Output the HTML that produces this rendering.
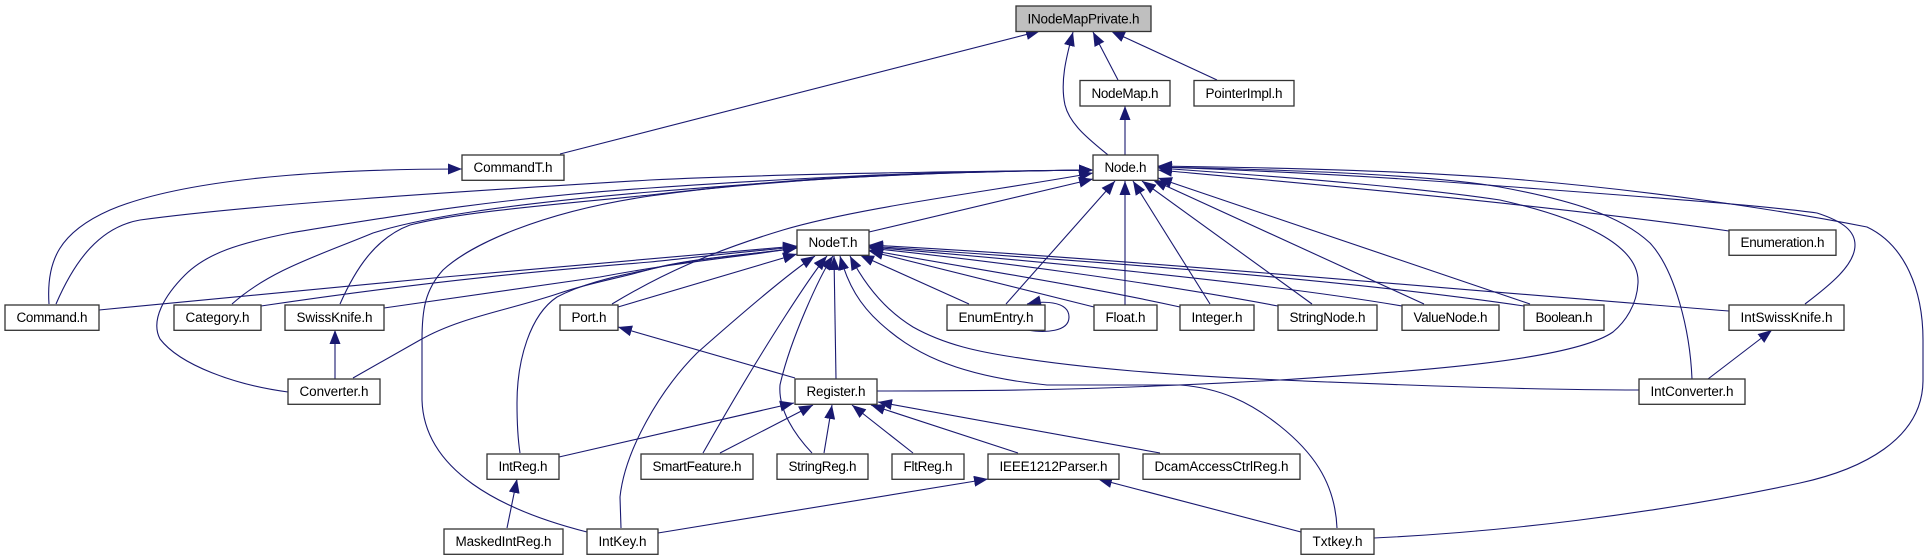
<!DOCTYPE html>
<html>
<head>
<meta charset="utf-8">
<style>
html,body{margin:0;padding:0;background:#fff;width:1929px;height:560px;overflow:hidden}
svg{display:block}
.e{fill:none;stroke:#191970;stroke-width:1.1;marker-start:url(#a)}
.n{fill:none;stroke:#191970;stroke-width:1.1}
rect{fill:#fff;stroke:#333;stroke-width:1.3}
text{font-family:"Liberation Sans",sans-serif;font-size:13.5px;fill:#000;text-anchor:middle}
</style>
</head>
<body>
<svg width="1929" height="560" viewBox="0 0 1929 560" xmlns="http://www.w3.org/2000/svg">
<defs>
<marker id="a" viewBox="0 0 14 11" refX="14" refY="5.5" markerWidth="14" markerHeight="11" markerUnits="userSpaceOnUse" orient="auto-start-reverse"><path d="M0,0L14,5.5L0,11z" fill="#191970"/></marker>
</defs>

<!-- edges to INodeMapPrivate -->
<path class="e" d="M1040,31 L560,154"/>
<path class="e" d="M1073,32 C1066,58 1060,82 1065,105 C1070,125 1090,140 1108,155"/>
<path class="e" d="M1093,32 L1118,80"/>
<path class="e" d="M1111,31 L1217,80"/>
<path class="e" d="M1125,106 L1125,155"/>
<path class="e" d="M462,169 C380,169 200,172 110,210 C60,232 46,260 49,304"/>

<!-- edges to Node left -->
<path class="e" d="M1093,170 C900,172 750,175 650,180 C450,192 250,205 140,220 C100,227 75,260 56,304"/>
<path class="e" d="M1093,170 C900,172 800,178 650,188 C500,198 400,215 290,233 C240,243 207,253 185,275 C165,295 150,320 160,339 C180,365 235,385 288,392"/>
<path class="e" d="M1093,170 C900,172 800,180 650,192 C500,205 420,218 373,233 C320,255 270,270 232,304"/>
<path class="e" d="M1093,170 C900,172 780,180 650,195 C550,205 460,212 410,225 C375,238 355,270 340,304"/>
<path class="e" d="M1093,170 C900,172 780,178 650,196 C540,212 470,245 443,270 C425,290 422,310 422,340 L422,400 C424,470 500,510 587,532"/>
<path class="e" d="M1093,173 C1000,190 860,207 783,230 C710,252 660,275 612,304"/>
<path class="e" d="M1093,179 L869,232"/>

<!-- edges to Node bottom -->
<path class="e" d="M1115,181 L1006,304"/>
<path class="e" d="M1125,181 L1125,305"/>
<path class="e" d="M1133,181 L1210,304"/>
<path class="e" d="M1142,181 L1312,304"/>
<path class="e" d="M1153,180 L1424,304"/>
<path class="e" d="M1158,178 L1530,304"/>

<!-- edges to Node right -->
<path class="e" d="M1158,170 C1300,183 1550,205 1729,231"/>
<path class="e" d="M1158,168 C1300,178 1420,188 1500,200 C1580,218 1640,245 1638,283 C1637,305 1625,322 1613,332 C1570,362 1400,372 1280,380 C1100,390 1000,391 877,391"/>
<path class="e" d="M1158,167 C1300,170 1430,175 1500,187 C1570,200 1620,215 1650,243 C1675,270 1690,330 1692,379"/>
<path class="e" d="M1158,167 C1300,172 1400,178 1500,186 C1620,195 1760,205 1817,213 C1845,222 1855,232 1855,245 C1855,265 1830,285 1805,304"/>
<path class="e" d="M1158,166 C1300,168 1420,172 1500,178 C1650,190 1780,210 1867,227 C1905,245 1923,290 1923,340 L1923,380 C1923,440 1860,470 1800,483 C1650,515 1500,532 1374,538"/>

<!-- edges to NodeT left -->
<path class="e" d="M797,246 C600,262 300,290 99,310"/>
<path class="e" d="M797,247 C720,254 690,258 650,262 C580,268 456,277 261,306"/>
<path class="e" d="M797,248 C730,258 680,262 600,277 L384,308"/>
<path class="e" d="M797,248 C740,256 690,258 640,272 C610,280 590,283 560,293 C510,310 460,317 420,340 L353,378"/>
<path class="e" d="M797,248 C740,256 690,258 647,270 C610,277 580,285 557,297 C530,315 517,360 517,403 C517,425 518,440 520,453"/>
<path class="e" d="M797,254 L618,307"/>

<!-- edges to NodeT bottom -->
<path class="e" d="M815,256 C790,272 740,315 697,353 C660,390 625,450 620,497 L621,528"/>
<path class="e" d="M827,256 C815,270 770,335 703,453"/>
<path class="e" d="M833,256 C820,275 790,340 780,385 C778,410 795,435 812,453"/>
<path class="e" d="M834,256 L836,379"/>
<path class="e" d="M840,256 C848,285 860,305 880,323 C910,350 950,375 1047,385 L1180,385 C1220,388 1250,402 1280,426 C1310,450 1335,480 1337,528"/>
<path class="e" d="M850,256 C865,285 885,310 913,327 C945,345 980,352 1013,357 C1080,368 1180,376 1280,380 C1400,385 1530,390 1639,390"/>
<path class="e" d="M860,255 L969,304"/>

<!-- edges to NodeT right -->
<path class="e" d="M869,251 L1094,307"/>
<path class="e" d="M869,250 C980,270 1080,285 1180,307"/>
<path class="e" d="M869,248 C1000,262 1150,282 1278,306"/>
<path class="e" d="M869,247 C1000,258 1250,280 1402,306"/>
<path class="e" d="M869,246 C1000,256 1300,273 1524,306"/>
<path class="e" d="M869,245 C1100,257 1400,285 1729,311"/>

<!-- Enum self loop -->
<path class="e" d="M1027,304 C1040,301 1069,300 1069,317 C1069,332 1045,333 1027,330"/>

<!-- Register edges -->
<path class="e" d="M618,327 L795,378"/>
<path class="e" d="M794,403 L559,457"/>
<path class="e" d="M813,405 L720,453"/>
<path class="e" d="M832,405 L824,453"/>
<path class="e" d="M852,405 L913,453"/>
<path class="e" d="M871,405 L1018,453"/>
<path class="e" d="M878,402 L1160,453"/>
<path class="e" d="M517,479 L507,528"/>
<path class="e" d="M335,330 L335,379"/>
<path class="e" d="M1772,330 L1708,379"/>
<path class="e" d="M988,479 L658,533"/>
<path class="e" d="M1098,479 L1301,532"/>

<!-- nodes -->
<rect x="1016" y="6" width="135" height="25.5" style="fill:#bfbfbf"/><text x="1083.5" y="23.5" textLength="112">INodeMapPrivate.h</text>
<rect x="1080" y="80.5" width="90" height="25.5"/><text x="1125" y="98" textLength="67">NodeMap.h</text>
<rect x="1194" y="80.5" width="100" height="25.5"/><text x="1244" y="98" textLength="77">PointerImpl.h</text>
<rect x="462" y="155" width="102" height="25.3"/><text x="513" y="172" textLength="79">CommandT.h</text>
<rect x="1093" y="155" width="65" height="25.3"/><text x="1125.5" y="172" textLength="42">Node.h</text>
<rect x="797" y="230" width="72" height="25.3"/><text x="833" y="247" textLength="49">NodeT.h</text>
<rect x="1729" y="230" width="107" height="25.3"/><text x="1782.5" y="247" textLength="84">Enumeration.h</text>

<rect x="5" y="305" width="94" height="25.3"/><text x="52" y="322" textLength="71">Command.h</text>
<rect x="174" y="305" width="87" height="25.3"/><text x="217.5" y="322" textLength="64">Category.h</text>
<rect x="285" y="305" width="99" height="25.3"/><text x="334.5" y="322" textLength="76">SwissKnife.h</text>
<rect x="560" y="305" width="58" height="25.3"/><text x="589" y="322" textLength="35">Port.h</text>
<rect x="947" y="305" width="98" height="25.3"/><text x="996" y="322" textLength="75">EnumEntry.h</text>
<rect x="1094" y="305" width="63" height="25.3"/><text x="1125.5" y="322" textLength="40">Float.h</text>
<rect x="1180" y="305" width="74" height="25.3"/><text x="1217" y="322" textLength="51">Integer.h</text>
<rect x="1278" y="305" width="99" height="25.3"/><text x="1327.5" y="322" textLength="76">StringNode.h</text>
<rect x="1402" y="305" width="97" height="25.3"/><text x="1450.5" y="322" textLength="74">ValueNode.h</text>
<rect x="1524" y="305" width="80" height="25.3"/><text x="1564" y="322" textLength="57">Boolean.h</text>
<rect x="1729" y="305" width="115" height="25.3"/><text x="1786.5" y="322" textLength="92">IntSwissKnife.h</text>

<rect x="288" y="379" width="92" height="25.3"/><text x="334" y="396" textLength="69">Converter.h</text>
<rect x="795" y="379" width="82" height="25.3"/><text x="836" y="396" textLength="59">Register.h</text>
<rect x="1639" y="379" width="106" height="25.3"/><text x="1692" y="396" textLength="83">IntConverter.h</text>

<rect x="487" y="454" width="72" height="25.3"/><text x="523" y="471" textLength="49">IntReg.h</text>
<rect x="641" y="454" width="112" height="25.3"/><text x="697" y="471" textLength="89">SmartFeature.h</text>
<rect x="777" y="454" width="91" height="25.3"/><text x="822.5" y="471" textLength="68">StringReg.h</text>
<rect x="892" y="454" width="72" height="25.3"/><text x="928" y="471" textLength="49">FltReg.h</text>
<rect x="988" y="454" width="131" height="25.3"/><text x="1053.5" y="471" textLength="108">IEEE1212Parser.h</text>
<rect x="1143" y="454" width="157" height="25.3"/><text x="1221.5" y="471" textLength="134">DcamAccessCtrlReg.h</text>

<rect x="444" y="529" width="119" height="25.3"/><text x="503.5" y="546" textLength="96">MaskedIntReg.h</text>
<rect x="587" y="529" width="71" height="25.3"/><text x="622.5" y="546" textLength="48">IntKey.h</text>
<rect x="1301" y="529" width="73" height="25.3"/><text x="1337.5" y="546" textLength="50">Txtkey.h</text>
</svg>
</body>
</html>
